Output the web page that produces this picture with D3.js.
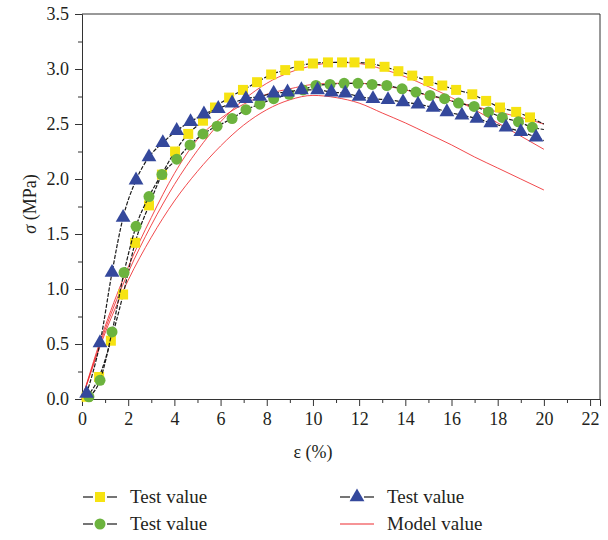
<!DOCTYPE html>
<html>
<head>
<meta charset="utf-8">
<script src="https://cdn.jsdelivr.net/npm/d3@7"></script>
<style>
  body { margin: 0; background: #fff; }
  text { font-family: "Liberation Serif", "Times New Roman", serif; fill: #231f20; }
</style>
</head>
<body>
<script>
var width = 608, height = 540;

// test series 1 (yellow squares)
var epsYellow = [0.2,0.74,1.25,1.78,2.3,2.9,3.46,4.03,4.6,5.24,5.76,6.37,6.97,7.58,8.19,8.8,9.4,10.0,10.65,11.26,11.8,12.47,13.1,13.7,14.3,15.0,15.6,16.2,16.9,17.5,18.1,18.8,19.4,20.0];
var sigYellow = [0.02,0.2,0.53,0.95,1.42,1.76,2.04,2.25,2.41,2.53,2.65,2.74,2.81,2.88,2.95,2.99,3.03,3.05,3.06,3.06,3.06,3.05,3.02,2.98,2.94,2.89,2.85,2.81,2.77,2.71,2.65,2.61,2.56,2.5];

// test series 2 (green circles)
var epsGreen = [0.3,0.78,1.3,1.82,2.34,2.9,3.46,4.1,4.68,5.24,5.85,6.5,7.1,7.7,8.3,8.97,9.57,10.13,10.74,11.35,11.95,12.56,13.2,13.86,14.46,15.07,15.7,16.3,16.98,17.6,18.2,18.9,19.5,20.0];
var sigGreen = [0.02,0.17,0.61,1.15,1.57,1.84,2.04,2.18,2.31,2.41,2.48,2.55,2.63,2.68,2.73,2.77,2.81,2.85,2.86,2.87,2.87,2.86,2.85,2.82,2.79,2.76,2.73,2.69,2.66,2.61,2.56,2.52,2.47,2.45];

// test series 3 (blue triangles)
var epsBlue = [0.2,0.78,1.3,1.78,2.34,2.9,3.5,4.1,4.7,5.28,5.9,6.5,7.1,7.7,8.3,8.9,9.5,10.2,10.8,11.4,12.0,12.6,13.25,13.9,14.55,15.2,15.8,16.45,17.1,17.7,18.36,19.0,19.66,20.0];
var sigBlue = [0.05,0.51,1.15,1.65,1.99,2.2,2.33,2.44,2.52,2.59,2.64,2.69,2.73,2.75,2.78,2.79,2.81,2.81,2.79,2.78,2.75,2.73,2.72,2.70,2.68,2.65,2.61,2.58,2.55,2.51,2.47,2.43,2.38,2.35];

// model curves
var epsModel = [0,1,2,3,4,5,6,7,8,9,10,11,12,13,14,15,16,17,18,19,20];
var sigModel1 = [0,0.63,1.15,1.58,1.95,2.26,2.52,2.72,2.87,2.97,3.03,3.06,3.05,3.0,2.93,2.84,2.74,2.63,2.51,2.39,2.27];
var sigModel2 = [0,0.66,1.2,1.65,2.05,2.36,2.55,2.68,2.77,2.82,2.86,2.87,2.87,2.85,2.81,2.76,2.71,2.66,2.61,2.56,2.5];
var sigModel3 = [0,0.6,1.08,1.47,1.8,2.07,2.3,2.49,2.63,2.72,2.76,2.74,2.69,2.6,2.51,2.41,2.31,2.2,2.1,2.0,1.9];

var xTicks = [0,2,4,6,8,10,12,14,16,18,20,22];
var yTicks = [0,0.5,1.0,1.5,2.0,2.5,3.0,3.5];
var legendLabels = ["Test value", "Test value", "Test value", "Model value"];

var svg = d3.select("body").append("svg")
    .attr("width", width)
    .attr("height", height);

var x = d3.scaleLinear().domain([0, 22.43]).range([82, 600]);
var y = d3.scaleLinear().domain([0, 3.5]).range([399, 14]);

// minor ticks
var xMinor = d3.range(1, 23, 2);
var yMinor = d3.range(0.25, 3.5, 0.5);

var axisColor = "#333";

svg.append("g")
    .attr("transform", "translate(0,399)")
    .call(d3.axisBottom(x).tickValues(xMinor).tickSize(4).tickFormat(""))
    .call(g => g.select(".domain").remove());
svg.append("g")
    .attr("transform", "translate(82,0)")
    .call(d3.axisLeft(y).tickValues(yMinor).tickSize(4).tickFormat(""))
    .call(g => g.select(".domain").remove());

var xAxis = svg.append("g")
    .attr("transform", "translate(0,399)")
    .call(d3.axisBottom(x).tickValues(xTicks).tickSize(7).tickPadding(6).tickFormat(d3.format("d")));
var yAxis = svg.append("g")
    .attr("transform", "translate(82,0)")
    .call(d3.axisLeft(y).tickValues(yTicks).tickSize(7).tickPadding(6).tickFormat(d3.format(".1f")));

svg.selectAll(".tick line").attr("stroke", axisColor);
svg.selectAll(".domain").attr("stroke", axisColor);
svg.selectAll(".tick text")
    .style("font-family", "'Liberation Serif', serif")
    .style("font-size", "18px")
    .attr("fill", "#231f20");

// frame top and right
svg.append("line").attr("x1", 82).attr("x2", 600).attr("y1", 14).attr("y2", 14).attr("stroke", axisColor);
svg.append("line").attr("x1", 600).attr("x2", 600).attr("y1", 14).attr("y2", 399).attr("stroke", axisColor);

// axis titles
svg.append("text")
    .attr("transform", "translate(36,204) rotate(-90)")
    .attr("text-anchor", "middle")
    .style("font-size", "18px")
    .html('<tspan font-style="italic">σ</tspan> (MPa)');
svg.append("text")
    .attr("x", 313).attr("y", 458)
    .attr("text-anchor", "middle")
    .style("font-size", "18px")
    .text("ε (%)");

var line = d3.line()
    .x(d => x(d[0]))
    .y(d => y(d[1]))
    .curve(d3.curveMonotoneX);

var red = "#ee2a2e";
[sigModel1, sigModel2, sigModel3].forEach(function (s) {
    svg.append("path")
        .datum(epsModel.map((e, i) => [e, s[i]]))
        .attr("d", line)
        .attr("fill", "none")
        .attr("stroke", red)
        .attr("stroke-opacity", 0.85)
        .attr("stroke-width", 1);
});

var series = [
    {eps: epsYellow, sig: sigYellow, color: "#f6e312", shape: d3.symbolSquare, size: 100},
    {eps: epsGreen, sig: sigGreen, color: "#6cb33e", shape: d3.symbolCircle, size: 95},
    {eps: epsBlue, sig: sigBlue, color: "#34489c", shape: d3.symbolTriangle, size: 95}
];

series.forEach(function (s) {
    var pts = s.eps.map((e, i) => [e, s.sig[i]]);
    svg.append("path")
        .datum(pts)
        .attr("d", line)
        .attr("fill", "none")
        .attr("stroke", "#1a1a1a")
        .attr("stroke-width", 1.2)
        .attr("stroke-dasharray", "4,1.5");
    // last point is the end of the line only, no marker
    svg.append("g").selectAll("path")
        .data(pts.slice(0, pts.length - 1))
        .enter()
        .append("path")
        .attr("d", d3.symbol().type(s.shape).size(s.size))
        .attr("transform", d => "translate(" + x(d[0]) + "," + y(d[1]) + ")")
        .attr("fill", s.color);
});

// legend
var legendPos = [[83, 497], [83, 524], [340, 497], [340, 524]];
var legendSeries = [series[0], series[1], series[2], null];
legendPos.forEach(function (p, i) {
    var g = svg.append("g").attr("transform", "translate(" + p[0] + "," + p[1] + ")");
    var s = legendSeries[i];
    if (s) {
        g.append("line").attr("x1", 0).attr("x2", 10).attr("y1", 0).attr("y2", 0).attr("stroke", "#1a1a1a").attr("stroke-width", 1.2);
        g.append("line").attr("x1", 24).attr("x2", 34).attr("y1", 0).attr("y2", 0).attr("stroke", "#1a1a1a").attr("stroke-width", 1.2);
        g.append("path")
            .attr("d", d3.symbol().type(s.shape).size(s.size))
            .attr("transform", "translate(17,0)")
            .attr("fill", s.color);
    } else {
        g.append("line").attr("x1", 0).attr("x2", 34).attr("y1", 0).attr("y2", 0).attr("stroke", red).attr("stroke-width", 1.2);
    }
    g.append("text")
        .attr("x", 47).attr("y", 6)
        .style("font-size", "19px")
        .text(legendLabels[i]);
});
</script>
</body>
</html>
